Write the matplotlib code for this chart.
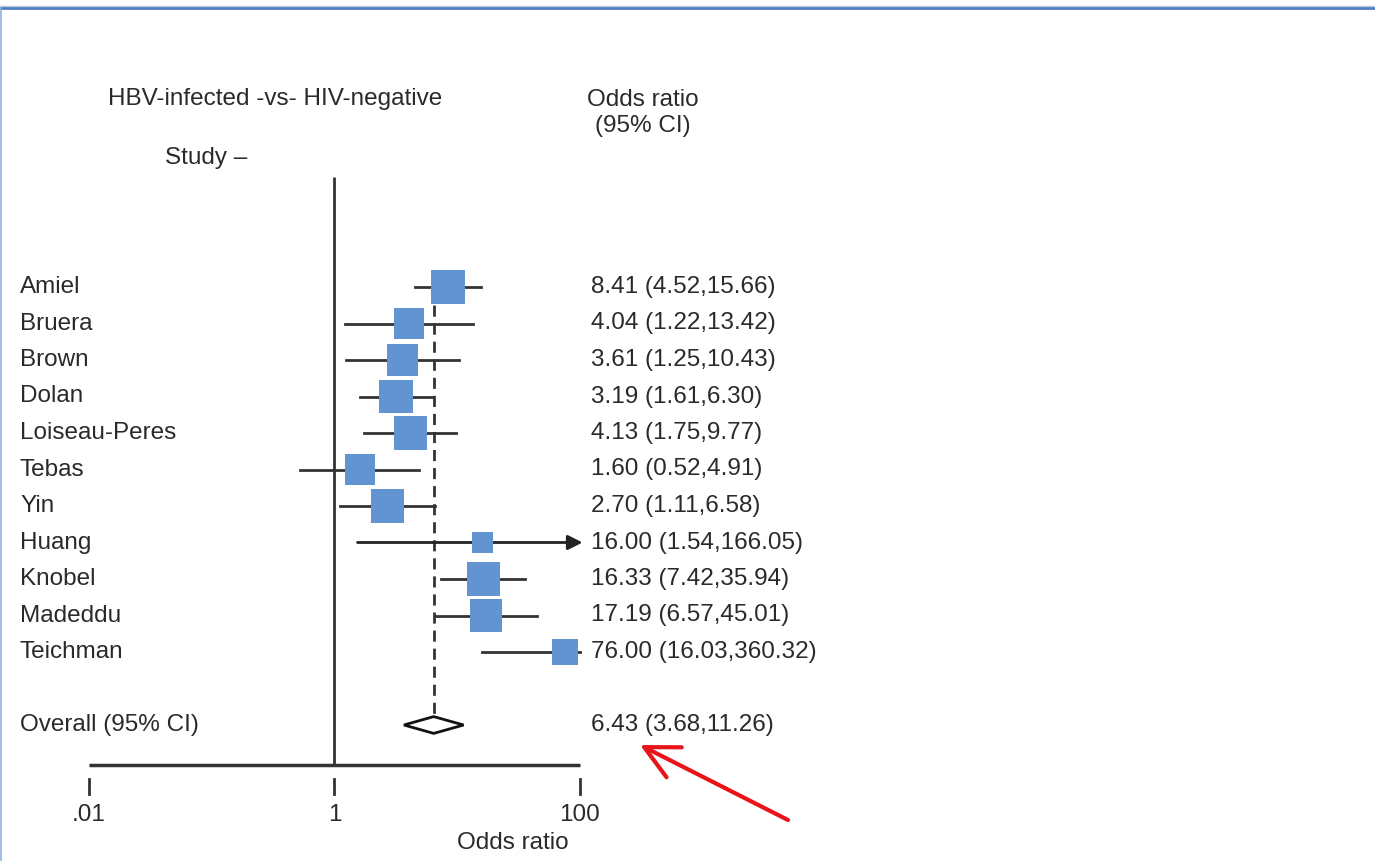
import matplotlib
matplotlib.use("Agg")
import matplotlib.pyplot as plt
import matplotlib.transforms as mtransforms
from matplotlib.lines import Line2D
from matplotlib.patches import Polygon
import numpy as np

plt.rcParams['font.family'] = ['Liberation Sans', 'DejaVu Sans']

# ---------------- data ----------------
studies = ["Amiel", "Bruera", "Brown", "Dolan", "Loiseau-Peres", "Tebas", "Yin",
           "Huang", "Knobel", "Madeddu", "Teichman"]
odds = [8.41, 4.04, 3.61, 3.19, 4.13, 1.60, 2.70, 16.00, 16.33, 17.19, 76.00]
ci_low = [4.52, 1.22, 1.25, 1.61, 1.75, 0.52, 1.11, 1.54, 7.42, 6.57, 16.03]
ci_high = [15.66, 13.42, 10.43, 6.30, 9.77, 4.91, 6.58, 166.05, 35.94, 45.01, 360.32]
weights = [11.0, 8.6, 9.2, 11.0, 10.4, 8.6, 10.4, 4.2, 10.4, 9.8, 6.4]
overall_label = "Overall (95% CI)"
overall = (6.43, 3.68, 11.26)
tick_vals = [0.01, 1, 100]
tick_labels = [".01", "1", "100"]
header_left = "HBV-infected -vs- HIV-negative"
header_study = "Study \u2013"
header_right = "Odds ratio\n(95% CI)"
xlabel = "Odds ratio"

# ---------------- figure ----------------
W, H = 1375, 861
fig = plt.figure(figsize=(W / 100, H / 100), dpi=100)
ax = fig.add_axes([0, 0, 1, 1])
ax.set_xscale('log')
decade = (580 - 89) / 4.0
ax.set_xlim(10 ** (-2 - 89 / decade), 10 ** (-2 + (W - 89) / decade))
row_h = 36.5
y0 = 287
ax.set_ylim((H - y0) / row_h, -y0 / row_h)
ax.axis('off')

def prow(py):
    return (py - y0) / row_h

txtcol = '#2a2a2a'
linecol = '#333333'
boxcol = '#6194d0'
fs = 17.5

blend = mtransforms.blended_transform_factory(fig.transFigure, ax.transData)

def ftext(px, py, s, **kw):
    fig.text(px / W, 1 - py / H, s, fontsize=fs, color=txtcol, **kw)

n = len(studies)
rows = np.arange(n)
overall_row = n + 1

# reference line at 1 and x axis
ax.plot([1, 1], [prow(177), prow(765)], color=linecol, lw=2, solid_capstyle='butt')
ax.plot([tick_vals[0], tick_vals[-1]], [prow(765), prow(765)], color=linecol, lw=2.5,
        solid_capstyle='butt')
for tv, tl in zip(tick_vals, tick_labels):
    ax.plot([tv, tv], [prow(779), prow(794)], color=linecol, lw=2)
    ax.text(tv, prow(815), tl, ha='center', va='center', fontsize=fs, color=txtcol)
ax.text(10 ** 1.45, prow(843), xlabel, ha='center', va='center', fontsize=fs, color=txtcol)

# dashed overall line
ax.plot([overall[0], overall[0]], [rows[0], overall_row - 0.25], color=linecol, lw=2,
        dashes=(4, 2.5), zorder=1)

xmax = tick_vals[-1]
for i in range(n):
    hi = min(ci_high[i], xmax)
    if ci_high[i] > xmax and odds[i] < 30:
        ax.annotate('', xy=(hi * 1.05, rows[i]), xytext=(ci_low[i], rows[i]),
                    arrowprops=dict(arrowstyle='-|>', color='#222222', lw=2,
                                    mutation_scale=22, shrinkA=0, shrinkB=0), zorder=2)
    else:
        ax.plot([ci_low[i], hi], [rows[i], rows[i]], color=linecol, lw=2, zorder=2)
    side_px = 10.25 * np.sqrt(weights[i])
    ax.scatter([odds[i]], [rows[i]], marker='s', s=(side_px * 0.72) ** 2,
               color=boxcol, edgecolors='none', zorder=3)
    ax.text(591 / W, rows[i], studies[i].replace('', '') if False else
            f"{odds[i]:.2f} ({ci_low[i]:.2f},{ci_high[i]:.2f})",
            transform=blend, ha='left', va='center', fontsize=fs, color=txtcol)
    ax.text(20 / W, rows[i], studies[i], transform=blend, ha='left', va='center',
            fontsize=fs, color=txtcol)

# overall diamond
est, lo, hi = overall
dh = 0.23
diamond = Polygon([(lo, overall_row), (est, overall_row - dh), (hi, overall_row),
                   (est, overall_row + dh)], closed=True, facecolor='white',
                  edgecolor='#111111', lw=2, zorder=3)
ax.add_patch(diamond)
ax.text(20 / W, overall_row, overall_label, transform=blend, ha='left', va='center',
        fontsize=fs, color=txtcol)
ax.text(591 / W, overall_row, f"{est:.2f} ({lo:.2f},{hi:.2f})", transform=blend,
        ha='left', va='center', fontsize=fs, color=txtcol)

# headers
ftext(108, 99, header_left, ha='left', va='center')
ftext(165, 158, header_study, ha='left', va='center')
ftext(643, 113, header_right, ha='center', va='center', linespacing=1.25)

# red arrow annotation
ax.annotate('', xy=(640, H - 745), xycoords='figure pixels',
            xytext=(788, H - 820), textcoords='figure pixels',
            arrowprops=dict(arrowstyle='->,head_length=1.1,head_width=0.55',
                            color='#e8141a', lw=3, mutation_scale=22,
                            shrinkA=0, shrinkB=0))

# page border
fig.add_artist(Line2D([0, 1], [1 - 6 / H, 1 - 6 / H], transform=fig.transFigure,
                      color='#b7c9e2', lw=1))
fig.add_artist(Line2D([0, 1], [1 - 8 / H, 1 - 8 / H], transform=fig.transFigure,
                      color='#4f7fbf', lw=2))
fig.add_artist(Line2D([0.5 / W, 0.5 / W], [0, 1 - 8 / H], transform=fig.transFigure,
                      color='#8fb2df', lw=1.2))

fig.savefig("out.png", dpi=100, facecolor='white')
